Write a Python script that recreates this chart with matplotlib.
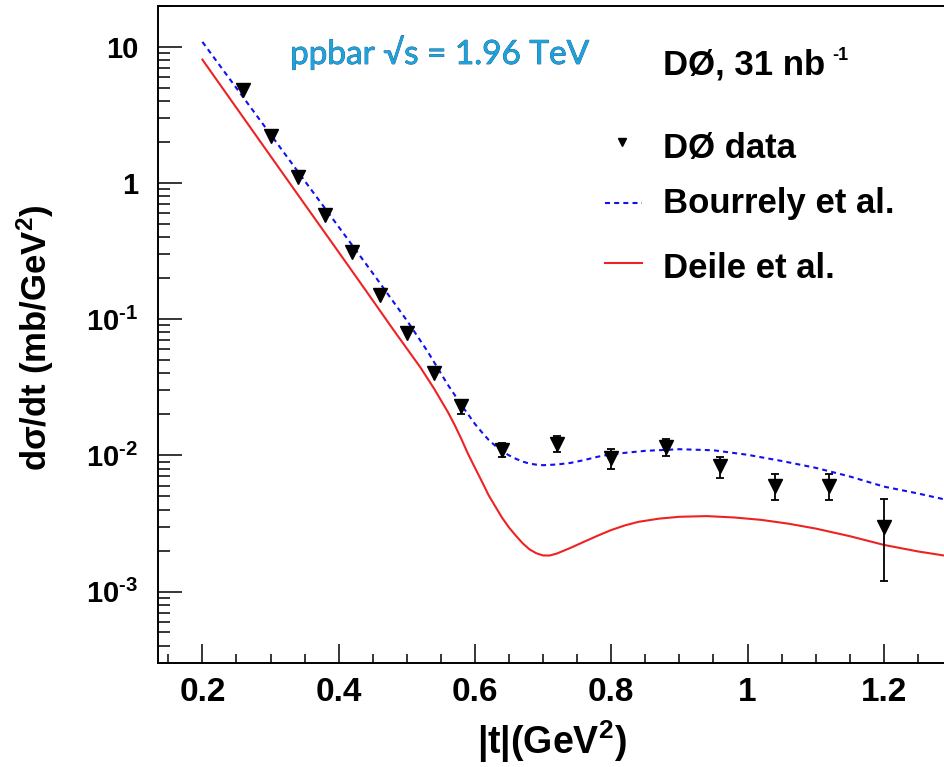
import numpy as np
import matplotlib
matplotlib.use('Agg')
import matplotlib.pyplot as plt
import matplotlib.patheffects as pe
from matplotlib.lines import Line2D
from matplotlib.ticker import MultipleLocator, LogLocator, FuncFormatter, NullFormatter

# ----------------------------------------------------------------
# Data
# ----------------------------------------------------------------
t_data = [0.26, 0.30, 0.34, 0.38, 0.42, 0.46, 0.50, 0.54, 0.58,
          0.64, 0.72, 0.80, 0.88, 0.96, 1.04, 1.12, 1.20]
dsdt_data = [4.8, 2.2, 1.10, 0.58, 0.31, 0.150, 0.079, 0.040, 0.0229,
             0.0110, 0.0122, 0.0096, 0.0116, 0.0083, 0.0060, 0.0060, 0.0030]
dsdt_err = [0, 0, 0, 0, 0, 0, 0, 0, 0.0028,
            0.0013, 0.0016, 0.0016, 0.0017, 0.0015, 0.0013, 0.0013, 0.0018]

t_bourrely = [0.20, 0.25, 0.30, 0.35, 0.40, 0.45, 0.50, 0.53, 0.56, 0.57, 0.58, 0.59,
              0.60, 0.61, 0.62, 0.63, 0.64, 0.65, 0.66, 0.67, 0.68, 0.69, 0.70,
              0.72, 0.74, 0.76, 0.78, 0.80, 0.85, 0.90, 0.95, 1.00, 1.05,
              1.10, 1.15, 1.20, 1.25, 1.30]
dsdt_bourrely = [10.9, 4.98, 2.28, 1.04, 0.477, 0.218, 0.098, 0.0585, 0.0331, 0.0279,
                 0.0234, 0.0200, 0.0170, 0.0148, 0.0130, 0.01175, 0.0107, 0.0100,
                 0.00944, 0.0090, 0.0087, 0.00855, 0.00847, 0.00857, 0.0088, 0.00923,
                 0.00977, 0.0102, 0.0108, 0.0111, 0.0109, 0.0101, 0.0091, 0.0081,
                 0.0070, 0.0059, 0.00525, 0.00462]

t_deile = [0.20, 0.25, 0.30, 0.35, 0.40, 0.44, 0.48, 0.52, 0.54, 0.56, 0.57, 0.58,
           0.59, 0.60, 0.61, 0.62, 0.63, 0.64, 0.65, 0.66, 0.67, 0.68, 0.69, 0.70,
           0.71, 0.72, 0.74, 0.76, 0.78, 0.80, 0.82, 0.84, 0.87, 0.90, 0.94, 0.98,
           1.02, 1.06, 1.10, 1.15, 1.20, 1.25, 1.30]
dsdt_deile = [8.07, 3.57, 1.58, 0.70, 0.311, 0.162, 0.084, 0.0442, 0.0309, 0.0209,
              0.0168, 0.0132, 0.0102, 0.0081, 0.00645, 0.0051, 0.0042, 0.00347,
              0.00295, 0.00257, 0.00226, 0.00204, 0.00191, 0.00184, 0.00184, 0.0019,
              0.00209, 0.00232, 0.00257, 0.00283, 0.00306, 0.00325, 0.00343,
              0.00354, 0.00358, 0.00350, 0.00336, 0.00315, 0.0029, 0.00255, 0.0022,
              0.00197, 0.0018]

# ----------------------------------------------------------------
# Style
# ----------------------------------------------------------------
plt.rcParams['font.family'] = ['Liberation Sans', 'DejaVu Sans']
plt.rcParams['font.weight'] = 'bold'
plt.rcParams['mathtext.fontset'] = 'custom'
plt.rcParams['mathtext.rm'] = 'Liberation Sans:bold'
plt.rcParams['mathtext.bf'] = 'Liberation Sans:bold'
plt.rcParams['mathtext.it'] = 'Liberation Sans:bold'
plt.rcParams['mathtext.default'] = 'regular'
plt.rcParams['axes.unicode_minus'] = False

W, H = 944, 767
fig = plt.figure(figsize=(W / 100, H / 100), dpi=100)

# axes box in pixels (the right edge runs past the picture)
x0, x1, y_top, y_bot = 157.7, 952.0, 5.7, 662.7
ax = fig.add_axes([x0 / W, 1 - y_bot / H, (x1 - x0) / W, (y_bot - y_top) / H])

# Curves
ax.plot(t_bourrely, dsdt_bourrely, color='#1010f0', lw=1.5, dashes=(2.4, 2.0))
ax.plot(t_deile, dsdt_deile, color='#ee2222', lw=1.5)

# Data
t = np.array(t_data)
y = np.array(dsdt_data)
e = np.array(dsdt_err)
m = e > 0
ax.errorbar(t[m], y[m], yerr=e[m], fmt='none', ecolor='k', elinewidth=1.3,
            capsize=3, capthick=1.3)
ax.plot(t, y, 'v', color='k', ms=10, zorder=5)

# Axes setup
ax.set_yscale('log')
ax.set_xlim(0.1344, 1.30)
ax.set_ylim(3.0e-4, 20.1)

ax.xaxis.set_major_locator(MultipleLocator(0.2))
ax.xaxis.set_minor_locator(MultipleLocator(0.05))
ax.xaxis.set_major_formatter(FuncFormatter(lambda v, p: '{:g}'.format(round(v, 2))))
ax.yaxis.set_major_locator(LogLocator(base=10))
ax.yaxis.set_minor_locator(LogLocator(base=10, subs=np.arange(2, 10)))
ax.yaxis.set_minor_formatter(NullFormatter())


def ylab(v, pos):
  ex = int(round(np.log10(v)))
  if ex == 0:
    return '1'
  if ex == 1:
    return '10'
  return r'$10^{\text{%d}}$' % ex


ax.yaxis.set_major_formatter(FuncFormatter(ylab))

ax.tick_params(axis='both', which='both', direction='in', top=False, right=False, width=1.1)
ax.tick_params(axis='x', which='major', length=13.7, labelsize=24, pad=10)
ax.tick_params(axis='x', which='minor', length=6.5)
ax.tick_params(axis='y', which='major', length=17.3, labelsize=21, pad=14)
ax.tick_params(axis='y', which='minor', length=8.6)
for sp in ax.spines.values():
  sp.set_linewidth(1.4)

ax.set_xlabel(r'|t|(GeV$^{2}$)', fontsize=27, fontweight='bold', va='center')
ax.xaxis.set_label_coords(0.496, -0.1207)
ax.set_ylabel(r'd$\sigma$/dt (mb/GeV$^{2}$)', fontsize=25, fontweight='bold', va='center')
ax.yaxis.set_label_coords(-0.1545, 0.495)

# ----------------------------------------------------------------
# Annotations and legend
# ----------------------------------------------------------------
def fx(px):
  return px / W


def fy(py):
  return 1 - py / H


fig.text(fx(290), fy(64), 'ppbar √s = 1.96 TeV', fontsize=24, fontweight='normal',
         family=['Lato', 'DejaVu Sans'], color='#1ca3de', va='baseline', ha='left',
         path_effects=[pe.withStroke(linewidth=0.5, foreground='#1a4f78')])

fig.text(fx(663.3), fy(75), 'DØ, 31 nb', fontsize=25, fontweight='bold', va='baseline')
fig.text(fx(832), fy(60), '-1', fontsize=13, fontweight='bold', va='baseline')

fig.text(fx(663.3), fy(158.3), 'DØ data', fontsize=25, fontweight='bold', va='baseline')
fig.text(fx(663.3), fy(213.3), 'Bourrely et al.', fontsize=25, fontweight='bold', va='baseline')
fig.text(fx(663.3), fy(278.3), 'Deile et al.', fontsize=25, fontweight='bold', va='baseline')

fig.add_artist(Line2D([fx(621.7)], [fy(141.7)], marker='v', color='k', ms=6, ls='none'))
fig.add_artist(Line2D([fx(605), fx(641.7)], [fy(203), fy(203)], color='#1010f0', lw=1.5,
                      dashes=(2.4, 2.0)))
fig.add_artist(Line2D([fx(605), fx(641.7)], [fy(263), fy(263)], color='#ee2222', lw=1.5))

fig.savefig('out.png', dpi=100)
